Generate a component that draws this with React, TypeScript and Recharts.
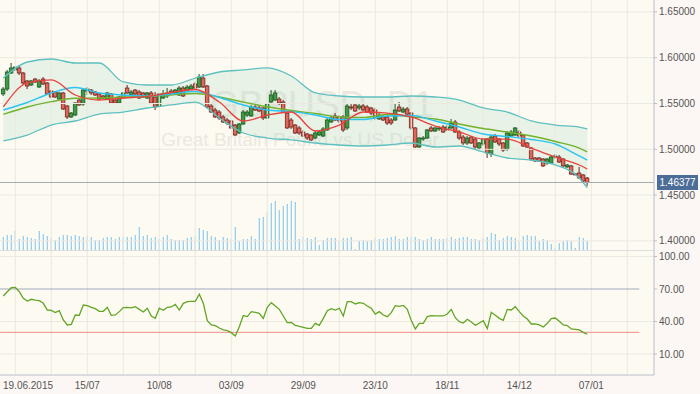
import React from 'react';
import { ComposedChart, Bar, Line, Area, XAxis, YAxis, ReferenceLine } from 'recharts';

const openP = [
  1.5604, 1.5658, 1.5833, 1.5866, 1.5888, 1.5833, 1.5746, 1.5702, 1.5767, 1.5680,
  1.5767, 1.5724, 1.5636, 1.5626, 1.5549, 1.5615, 1.5473, 1.5353, 1.5374, 1.5538,
  1.5495, 1.5636, 1.5647, 1.5626, 1.5604, 1.5582, 1.5549, 1.5604, 1.5538, 1.5505,
  1.5560, 1.5669, 1.5593, 1.5647, 1.5626, 1.5615, 1.5560, 1.5615, 1.5571, 1.5473,
  1.5560, 1.5582, 1.5636, 1.5615, 1.5593, 1.5669, 1.5647, 1.5658, 1.5713, 1.5680,
  1.5778, 1.5691, 1.5473, 1.5429, 1.5407, 1.5353, 1.5320, 1.5309, 1.5265, 1.5178,
  1.5276, 1.5374, 1.5364, 1.5462, 1.5451, 1.5451, 1.5342, 1.5516, 1.5538, 1.5549,
  1.5516, 1.5396, 1.5320, 1.5265, 1.5233, 1.5189, 1.5167, 1.5156, 1.5123, 1.5156,
  1.5145, 1.5211, 1.5298, 1.5364, 1.5353, 1.5353, 1.5233, 1.5462, 1.5484, 1.5451,
  1.5473, 1.5462, 1.5451, 1.5429, 1.5331, 1.5353, 1.5353, 1.5320, 1.5320, 1.5462,
  1.5407, 1.5440, 1.5396, 1.5233, 1.5025, 1.5112, 1.5123, 1.5233, 1.5200, 1.5222,
  1.5243, 1.5211, 1.5233, 1.5298, 1.5189, 1.5134, 1.5069, 1.5134, 1.5112, 1.5014,
  1.5058, 1.5112, 1.4949, 1.5145, 1.5112, 1.5069, 1.5003, 1.5145, 1.5156, 1.5189,
  1.5156, 1.5069, 1.5014, 1.4905, 1.4905, 1.4894, 1.4851, 1.4851, 1.4916, 1.4916,
  1.4894, 1.4807, 1.4818, 1.4731, 1.4741, 1.4720, 1.4687,
];
const highP = [
  1.5680, 1.5866, 1.5942, 1.5909, 1.5920, 1.5844, 1.5757, 1.5757, 1.5778, 1.5767,
  1.5789, 1.5735, 1.5647, 1.5636, 1.5626, 1.5626, 1.5484, 1.5407, 1.5516, 1.5549,
  1.5669, 1.5680, 1.5658, 1.5636, 1.5615, 1.5593, 1.5626, 1.5615, 1.5549, 1.5582,
  1.5626, 1.5702, 1.5647, 1.5658, 1.5647, 1.5626, 1.5626, 1.5636, 1.5626, 1.5615,
  1.5647, 1.5669, 1.5658, 1.5658, 1.5691, 1.5691, 1.5702, 1.5713, 1.5735, 1.5822,
  1.5822, 1.5702, 1.5495, 1.5451, 1.5429, 1.5374, 1.5342, 1.5320, 1.5276, 1.5287,
  1.5429, 1.5429, 1.5484, 1.5484, 1.5473, 1.5462, 1.5505, 1.5647, 1.5647, 1.5571,
  1.5538, 1.5418, 1.5342, 1.5276, 1.5254, 1.5211, 1.5178, 1.5167, 1.5200, 1.5211,
  1.5243, 1.5342, 1.5364, 1.5396, 1.5374, 1.5374, 1.5505, 1.5505, 1.5495, 1.5495,
  1.5495, 1.5484, 1.5462, 1.5451, 1.5396, 1.5374, 1.5374, 1.5342, 1.5495, 1.5516,
  1.5462, 1.5462, 1.5407, 1.5243, 1.5134, 1.5145, 1.5222, 1.5254, 1.5243, 1.5254,
  1.5265, 1.5265, 1.5331, 1.5320, 1.5211, 1.5156, 1.5145, 1.5145, 1.5123, 1.5080,
  1.5123, 1.5123, 1.5156, 1.5167, 1.5123, 1.5080, 1.5200, 1.5211, 1.5243, 1.5211,
  1.5167, 1.5080, 1.5025, 1.4916, 1.4916, 1.4905, 1.4905, 1.4938, 1.4949, 1.4938,
  1.4905, 1.4840, 1.4829, 1.4741, 1.4807, 1.4730, 1.4698,
];
const lowP = [
  1.5582, 1.5636, 1.5822, 1.5855, 1.5811, 1.5702, 1.5658, 1.5691, 1.5724, 1.5669,
  1.5702, 1.5593, 1.5560, 1.5560, 1.5538, 1.5429, 1.5331, 1.5342, 1.5364, 1.5473,
  1.5473, 1.5593, 1.5593, 1.5582, 1.5538, 1.5549, 1.5538, 1.5495, 1.5495, 1.5495,
  1.5549, 1.5604, 1.5582, 1.5582, 1.5549, 1.5560, 1.5549, 1.5495, 1.5429, 1.5462,
  1.5549, 1.5560, 1.5593, 1.5593, 1.5582, 1.5571, 1.5626, 1.5647, 1.5658, 1.5669,
  1.5669, 1.5451, 1.5396, 1.5342, 1.5320, 1.5287, 1.5265, 1.5222, 1.5145, 1.5167,
  1.5265, 1.5353, 1.5353, 1.5418, 1.5407, 1.5320, 1.5331, 1.5505, 1.5527, 1.5484,
  1.5396, 1.5222, 1.5222, 1.5167, 1.5156, 1.5134, 1.5102, 1.5091, 1.5112, 1.5145,
  1.5134, 1.5200, 1.5287, 1.5309, 1.5287, 1.5189, 1.5211, 1.5429, 1.5407, 1.5429,
  1.5418, 1.5396, 1.5374, 1.5320, 1.5320, 1.5309, 1.5265, 1.5265, 1.5309, 1.5407,
  1.5396, 1.5374, 1.5211, 1.5014, 1.5014, 1.5091, 1.5112, 1.5189, 1.5189, 1.5200,
  1.5178, 1.5200, 1.5222, 1.5178, 1.5102, 1.5047, 1.5047, 1.5058, 1.5003, 1.4992,
  1.5036, 1.4905, 1.4916, 1.5069, 1.5036, 1.4971, 1.4982, 1.5134, 1.5145, 1.5134,
  1.5025, 1.5014, 1.4872, 1.4861, 1.4861, 1.4807, 1.4829, 1.4840, 1.4894, 1.4851,
  1.4807, 1.4796, 1.4720, 1.4720, 1.4676, 1.4643, 1.4600,
];
const closeP = [
  1.5658, 1.5844, 1.5888, 1.5898, 1.5833, 1.5724, 1.5691, 1.5746, 1.5735, 1.5746,
  1.5713, 1.5604, 1.5571, 1.5571, 1.5615, 1.5440, 1.5353, 1.5396, 1.5505, 1.5484,
  1.5647, 1.5658, 1.5615, 1.5593, 1.5549, 1.5560, 1.5615, 1.5505, 1.5505, 1.5571,
  1.5615, 1.5615, 1.5626, 1.5604, 1.5560, 1.5571, 1.5615, 1.5505, 1.5462, 1.5604,
  1.5604, 1.5615, 1.5615, 1.5647, 1.5669, 1.5582, 1.5680, 1.5691, 1.5669, 1.5789,
  1.5680, 1.5462, 1.5407, 1.5353, 1.5342, 1.5298, 1.5287, 1.5233, 1.5156, 1.5276,
  1.5407, 1.5407, 1.5462, 1.5429, 1.5418, 1.5342, 1.5495, 1.5593, 1.5615, 1.5505,
  1.5407, 1.5233, 1.5243, 1.5178, 1.5178, 1.5145, 1.5123, 1.5102, 1.5178, 1.5189,
  1.5222, 1.5320, 1.5342, 1.5320, 1.5309, 1.5211, 1.5473, 1.5451, 1.5418, 1.5473,
  1.5429, 1.5407, 1.5396, 1.5342, 1.5374, 1.5320, 1.5287, 1.5287, 1.5429, 1.5418,
  1.5440, 1.5385, 1.5233, 1.5025, 1.5123, 1.5123, 1.5211, 1.5200, 1.5233, 1.5233,
  1.5189, 1.5243, 1.5287, 1.5189, 1.5123, 1.5069, 1.5123, 1.5069, 1.5025, 1.5069,
  1.5112, 1.4960, 1.5134, 1.5080, 1.5058, 1.4992, 1.5178, 1.5189, 1.5233, 1.5145,
  1.5036, 1.5025, 1.4894, 1.4872, 1.4872, 1.4818, 1.4894, 1.4916, 1.4927, 1.4861,
  1.4818, 1.4829, 1.4730, 1.4729, 1.4687, 1.4654, 1.46377,
];
const volume = [
  13, 15, 15, 19, 11, 14, 13, 12, 11, 19,
  16, 14, 12, 10, 13, 15, 15, 14, 15, 14,
  13, 14, 13, 10, 10, 12, 13, 13, 11, 13,
  13, 13, 13, 15, 23, 14, 15, 12, 13, 11,
  13, 15, 11, 10, 10, 10, 12, 13, 14, 22,
  20, 19, 14, 13, 10, 13, 12, 11, 23, 9,
  11, 11, 14, 11, 32, 33, 38, 47, 49, 40,
  44, 46, 49, 48, 11, 13, 12, 11, 13, 5,
  10, 12, 12, 12, 9, 12, 12, 13, 1, 9,
  10, 9, 10, 12, 11, 11, 12, 13, 14, 11,
  11, 13, 13, 13, 11, 10, 11, 13, 11, 11,
  11, 12, 13, 11, 12, 13, 13, 11, 11, 10,
  12, 13, 17, 16, 10, 12, 14, 13, 12, 9,
  14, 15, 14, 14, 9, 11, 10, 6, 2, 7,
  9, 10, 9, 2, 13, 12, 9,
];
const rsiValues = [
  63.5, 67.5, 71.2, 71.5, 67.5, 61.4, 58.9, 60.5, 59.8, 59.2,
  56.8, 50.6, 50.3, 48.2, 50.0, 41.4, 36.8, 37.4, 46.0, 45.7,
  55.2, 54.6, 53.1, 51.8, 49.4, 49.4, 53.1, 45.7, 46.0, 49.1,
  52.8, 53.1, 52.5, 53.7, 51.2, 48.8, 52.2, 45.1, 42.9, 52.2,
  50.3, 53.1, 53.4, 55.8, 50.6, 56.8, 58.3, 58.6, 58.6, 65.1,
  56.8, 40.8, 36.8, 36.2, 34.0, 32.2, 31.5, 29.7, 26.6, 35.2,
  45.4, 44.5, 49.1, 48.5, 47.5, 42.9, 53.1, 57.4, 54.3, 51.2,
  45.1, 38.9, 39.2, 36.5, 35.5, 34.6, 33.7, 33.7, 38.3, 36.5,
  42.9, 50.0, 51.8, 50.6, 52.2, 45.1, 58.3, 58.3, 56.2, 57.4,
  56.8, 54.3, 52.2, 46.9, 49.1, 46.0, 44.5, 48.2, 54.6, 54.0,
  54.9, 51.2, 40.8, 33.1, 38.3, 38.3, 44.5, 45.4, 45.1, 45.1,
  45.1, 46.9, 51.2, 43.5, 39.8, 38.6, 42.0, 39.5, 36.5, 38.6,
  40.8, 33.4, 48.5, 45.7, 42.9, 41.1, 51.2, 50.6, 53.7, 49.1,
  45.1, 42.3, 37.7, 37.7, 36.8, 34.9, 38.3, 42.6, 43.2, 40.2,
  36.8, 36.2, 33.1, 32.8, 32.2, 30.0, 28.2,
];

const lineIdx = [0, 6, 12, 18, 24, 30, 36, 42, 48, 54, 60, 66, 72, 78, 84, 90, 96, 102, 108, 114, 120, 126, 132, 138, 144, 146];
const bbUpper = [1.5778, 1.5953, 1.5986, 1.5942, 1.5942, 1.5735, 1.5702, 1.5702, 1.5778, 1.5844, 1.5866, 1.5888, 1.5800, 1.5615, 1.5582, 1.5571, 1.5571, 1.5582, 1.5571, 1.5538, 1.5451, 1.5407, 1.5309, 1.5265, 1.5243, 1.5222];
const bbLower = [1.5091, 1.5156, 1.5265, 1.5309, 1.5385, 1.5407, 1.5451, 1.5484, 1.5516, 1.5342, 1.5178, 1.5123, 1.5102, 1.5069, 1.5047, 1.5036, 1.5047, 1.5069, 1.5025, 1.5036, 1.4971, 1.4905, 1.4883, 1.4829, 1.4687, 1.4578];
const bbMiddle = [1.5429, 1.5511, 1.5615, 1.5675, 1.5615, 1.5593, 1.5582, 1.5604, 1.5631, 1.5566, 1.5484, 1.5429, 1.5411, 1.5374, 1.5325, 1.5325, 1.5364, 1.5369, 1.5309, 1.5243, 1.5167, 1.5140, 1.5107, 1.5058, 1.4927, 1.4883];
const maFast = [1.5462, 1.5724, 1.5757, 1.5593, 1.5538, 1.5560, 1.5577, 1.5620, 1.5653, 1.5516, 1.5309, 1.5374, 1.5407, 1.5200, 1.5265, 1.5407, 1.5396, 1.5353, 1.5254, 1.5189, 1.5112, 1.5112, 1.5014, 1.4916, 1.4829, 1.4785];
const maSlow = [1.5382, 1.5462, 1.5520, 1.5557, 1.5560, 1.5571, 1.5577, 1.5593, 1.5609, 1.5571, 1.5516, 1.5465, 1.5423, 1.5391, 1.5353, 1.5347, 1.5380, 1.5353, 1.5331, 1.5276, 1.5227, 1.5189, 1.5145, 1.5085, 1.5014, 1.4971];

const xTicks = [3, 21, 39, 57, 75, 93, 111, 129, 147];
const xTickLabels = ['19.06.2015', '15/07', '10/08', '03/09', '29/09', '23/10', '18/11', '14/12', '07/01'];
const gridX = [3, 12, 21, 30, 39, 48, 57, 66, 75, 84, 93, 102, 111, 120, 129, 138, 147, 156];
const priceTicks = [1.4, 1.45, 1.5, 1.55, 1.6, 1.65];
const rsiTicks = [10, 40, 70, 100];
const rsiHigh = 70;
const rsiLow = 30;
const lastPrice = 1.46377;
const symbolTitle = 'GBPUSD, D1';
const symbolName = 'Great Britain Pound vs US Dollar';

const X_DOMAIN: [number, number] = [-0.825, 162.675];
const PRICE_DOMAIN: [number, number] = [1.39007, 1.66299];
const VOL_DOMAIN: [number, number] = [0, 250];
const RSI_DOMAIN: [number, number] = [-9.4, 106];
const LEVEL_END = 159;

const FONT = 'Liberation Sans, Arial, sans-serif';
const GRID = '#ece9e1';
const AXIS = '#b9bfc8';
const TEXT = '#555';

const bars = openP.map((o, i) => ({
  i,
  o,
  h: highP[i],
  l: lowP[i],
  c: closeP[i],
  hl: [lowP[i], highP[i]],
  vol: volume[i],
  rsi: rsiValues[i],
}));

const lineData = lineIdx.map((i, k) => ({
  i,
  up: bbUpper[k],
  lo: bbLower[k],
  band: [bbLower[k], bbUpper[k]],
  mid: bbMiddle[k],
  fast: maFast[k],
  slow: maSlow[k],
}));

const CandleShape = (props: any) => {
  const { x, y, width, height, payload } = props;
  if (!payload || x == null) return null;
  const cx = x + width / 2;
  const top = Math.min(y, y + height);
  const span = Math.abs(height);
  const { o, h, l, c } = payload;
  const r = h - l;
  const toY = (v: number) => (r > 0 ? top + ((h - v) / r) * span : top);
  const bull = c >= o;
  const bt = toY(Math.max(o, c));
  const bb = toY(Math.min(o, c));
  const stroke = bull ? '#1d5520' : '#6a221c';
  const fill = bull ? '#3e9a44' : '#e0675a';
  return (
    <g>
      <line x1={cx} x2={cx} y1={top} y2={top + span} stroke={stroke} strokeWidth={1} />
      <rect x={cx - 1.8} y={bt} width={3.6} height={Math.max(bb - bt, 1)} fill={fill} stroke={stroke} strokeWidth={0.75} />
    </g>
  );
};

const VolShape = (props: any) => {
  const { x, y, width, height } = props;
  if (x == null) return null;
  const cx = x + width / 2;
  const top = Math.min(y, y + height);
  return <rect x={cx - 0.6} y={top} width={1.2} height={Math.abs(height)} fill="#8ecbea" />;
};

const XTick = (props: any) => {
  const { x, y, payload, index } = props;
  const k = xTicks.indexOf(payload.value);
  const first = index === 0;
  return (
    <text x={first ? 3 : x} y={y + 12} textAnchor={first ? 'start' : 'middle'} fontSize={10} fill={TEXT} fontFamily={FONT}>
      {k >= 0 ? xTickLabels[k] : ''}
    </text>
  );
};

const PriceLabel = (props: any) => {
  const vb = props.viewBox || {};
  const lx = vb.x + vb.width + 3;
  const ly = vb.y;
  return (
    <g>
      <rect x={lx} y={ly - 7.5} width={41} height={15} fill="#4b6d97" />
      <text x={lx + 2.5} y={ly + 4} fontSize={10} fill="#fff" fontFamily={FONT}>
        {lastPrice.toFixed(5)}
      </text>
    </g>
  );
};

export default function App() {
  return (
    <div style={{ position: 'fixed', left: 0, top: 0, width: 700, height: 394, background: '#fdfaf1', overflow: 'hidden' }}>
      <div style={{ position: 'absolute', left: 654, top: 0, width: 46, height: 394, background: '#fcf7f4' }} />
      <div style={{ position: 'absolute', left: 0, top: 375, width: 700, height: 19, background: '#fcf7f4' }} />
      <svg width={700} height={250} style={{ position: 'absolute', left: 0, top: 0 }}>
        <text x={322} y={117} textAnchor="middle" fontSize={37} fill="#ebe8e0" fontFamily={FONT}>{symbolTitle}</text>
        <text x={300} y={146} textAnchor="middle" fontSize={19} fill="#ebe8e0" fontFamily={FONT}>{symbolName}</text>
      </svg>
      <div style={{ position: 'absolute', left: 0, top: 0 }}>
        <ComposedChart width={700} height={250} data={bars} margin={{ top: 0, right: 0, bottom: 0, left: 0 }}>
          <XAxis dataKey="i" type="number" domain={X_DOMAIN} allowDataOverflow hide />
          <XAxis xAxisId="vx" dataKey="i" type="number" domain={X_DOMAIN} allowDataOverflow hide />
          <YAxis
            orientation="right"
            type="number"
            domain={PRICE_DOMAIN}
            allowDataOverflow
            ticks={priceTicks}
            width={46}
            tickSize={3}
            tickFormatter={(v: number) => v.toFixed(5)}
            tick={{ fontSize: 10, fill: TEXT, fontFamily: FONT }}
            axisLine={{ stroke: AXIS }}
            tickLine={{ stroke: AXIS }}
            interval={0}
          />
          <YAxis yAxisId="vy" type="number" domain={VOL_DOMAIN} allowDataOverflow hide />
          {gridX.map((g) => (
            <ReferenceLine key={'gx' + g} x={g} stroke={GRID} strokeWidth={1} />
          ))}
          {priceTicks.map((t) => (
            <ReferenceLine key={'gy' + t} y={t} stroke={GRID} strokeWidth={1} />
          ))}
          <Area data={lineData} dataKey="band" type="monotone" stroke="none" fill="#9ed6c0" fillOpacity={0.22} dot={false} activeDot={false} legendType="none" isAnimationActive={false} />
          <Line data={lineData} dataKey="up" type="monotone" stroke="#5ec0c0" strokeWidth={1.3} dot={false} activeDot={false} legendType="none" isAnimationActive={false} />
          <Line data={lineData} dataKey="lo" type="monotone" stroke="#5ec0c0" strokeWidth={1.3} dot={false} activeDot={false} legendType="none" isAnimationActive={false} />
          <Line data={lineData} dataKey="slow" type="monotone" stroke="#72b22c" strokeWidth={1.4} dot={false} activeDot={false} legendType="none" isAnimationActive={false} />
          <Line data={lineData} dataKey="mid" type="monotone" stroke="#2cc3f0" strokeWidth={1.4} dot={false} activeDot={false} legendType="none" isAnimationActive={false} />
          <Line data={lineData} dataKey="fast" type="monotone" stroke="#e8423c" strokeWidth={1.3} dot={false} activeDot={false} legendType="none" isAnimationActive={false} />
          <Bar dataKey="vol" xAxisId="vx" yAxisId="vy" barSize={2} shape={<VolShape />} isAnimationActive={false} />
          <Bar dataKey="hl" barSize={4} shape={<CandleShape />} isAnimationActive={false} />
          <ReferenceLine y={lastPrice} stroke="#a3aab2" strokeWidth={1} label={<PriceLabel />} />
        </ComposedChart>
      </div>
      <div style={{ position: 'absolute', left: 0, top: 250 }}>
        <ComposedChart width={700} height={144} data={bars} margin={{ top: 0, right: 0, bottom: 0, left: 0 }}>
          <XAxis
            dataKey="i"
            type="number"
            domain={X_DOMAIN}
            allowDataOverflow
            ticks={xTicks}
            interval={0}
            height={19}
            tickSize={0}
            tick={<XTick />}
            axisLine={{ stroke: AXIS }}
            tickLine={false}
          />
          <YAxis
            orientation="right"
            type="number"
            domain={RSI_DOMAIN}
            allowDataOverflow
            ticks={rsiTicks}
            width={46}
            tickSize={3}
            tickFormatter={(v: number) => v.toFixed(2)}
            tick={{ fontSize: 10, fill: TEXT, fontFamily: FONT }}
            axisLine={{ stroke: AXIS }}
            tickLine={{ stroke: AXIS }}
            interval={0}
          />
          {gridX.map((g) => (
            <ReferenceLine key={'rgx' + g} x={g} stroke={GRID} strokeWidth={1} />
          ))}
          {[10, 40, 100].map((t) => (
            <ReferenceLine key={'rgy' + t} y={t} stroke={GRID} strokeWidth={1} />
          ))}
          <ReferenceLine y={RSI_DOMAIN[1]} stroke="#d3d3da" strokeWidth={1.5} />
          <ReferenceLine segment={[{ x: X_DOMAIN[0], y: rsiHigh }, { x: LEVEL_END, y: rsiHigh }]} stroke="#9eabc0" strokeWidth={1} />
          <ReferenceLine segment={[{ x: X_DOMAIN[0], y: rsiLow }, { x: LEVEL_END, y: rsiLow }]} stroke="#f08c86" strokeWidth={1} />
          <Line dataKey="rsi" type="linear" stroke="#62a526" strokeWidth={1.3} dot={false} activeDot={false} isAnimationActive={false} />
        </ComposedChart>
      </div>
    </div>
  );
}
